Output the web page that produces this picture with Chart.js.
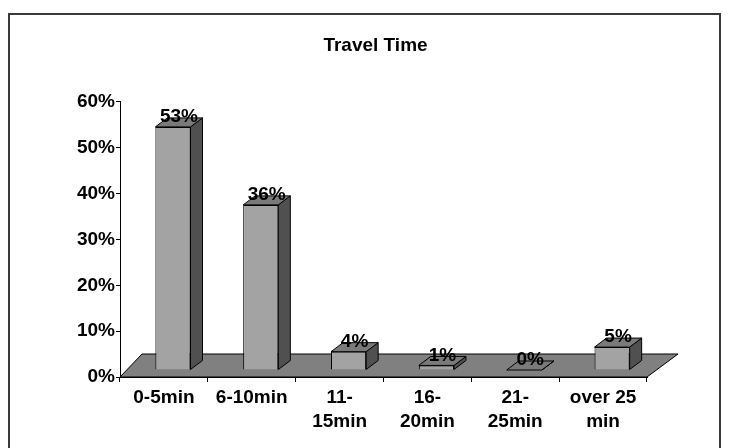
<!DOCTYPE html>
<html lang="en">
<head>
    <meta charset="UTF-8">
    <title>Travel Time</title>
    <script src="https://cdn.jsdelivr.net/npm/chart.js@4"></script>
    <style>
        html, body {
            margin: 0;
            padding: 0;
            background-color: #ffffff;
        }
        .contenedorGrafica {
            width: 729px;
            height: 448px;
        }
    </style>
</head>
<body>
    <div class="contenedorGrafica">
        <canvas id="travelChart" width="729" height="448"></canvas>
    </div>

    <script>
        const categories = [['0-5min'], ['6-10min'], ['11-', '15min'], ['16-', '20min'], ['21-', '25min'], ['over 25', 'min']];
        const percentages = [53, 36, 4, 1, 0, 5];
        const valueTicks = [0, 10, 20, 30, 40, 50, 60];

        const FONT = { family: "'Liberation Sans', Arial, sans-serif", size: 19, weight: 'bold' };

        // how far the bars sit back on the floor, and how deep each box is
        const SHIFT_X = 9, SHIFT_Y = 7;
        const BOX_X = 12, BOX_Y = 9;

        function poly(c, pts, fill) {
            c.beginPath();
            c.moveTo(pts[0][0], pts[0][1]);
            for (let i = 1; i < pts.length; i++) c.lineTo(pts[i][0], pts[i][1]);
            c.closePath();
            c.fillStyle = fill;
            c.fill();
            c.stroke();
        }

        const efecto3d = {
            id: 'efecto3d',
            beforeDraw(chart) {
                const c = chart.ctx;
                c.save();
                c.fillStyle = '#ffffff';
                c.fillRect(0, 0, chart.width, chart.height);
                c.strokeStyle = '#3a3a3a';
                c.lineWidth = 2;
                c.strokeRect(9, 14, 711, 470);
                c.restore();
            },
            beforeDatasetsDraw(chart) {
                const c = chart.ctx;
                const a = chart.chartArea;
                const y0 = chart.scales.y.getPixelForValue(0);
                c.save();
                c.strokeStyle = '#000';
                c.lineWidth = 1;
                poly(c, [[a.left, y0], [a.right, y0], [a.right + 31, y0 - 23], [a.left + 22, y0 - 23]], '#808080');
                c.restore();
                // bars are drawn a little back from the front edge
                c.save();
                c.translate(SHIFT_X, -SHIFT_Y);
            },
            afterDatasetsDraw(chart) {
                const c = chart.ctx;
                c.restore();
                const meta = chart.getDatasetMeta(0);
                c.save();
                c.strokeStyle = '#000';
                c.lineWidth = 1;
                meta.data.forEach((bar, i) => {
                    const p = bar.getProps(['x', 'y', 'base', 'width'], true);
                    const left = p.x - p.width / 2 + SHIFT_X;
                    const right = p.x + p.width / 2 + SHIFT_X;
                    const top = p.y - SHIFT_Y;
                    const bottom = p.base - SHIFT_Y;
                    poly(c, [[right, top], [right + BOX_X, top - BOX_Y], [right + BOX_X, bottom - BOX_Y], [right, bottom]], '#505050');
                    poly(c, [[left, top], [left + BOX_X, top - BOX_Y], [right + BOX_X, top - BOX_Y], [right, top]], '#7a7a7a');
                });
                c.fillStyle = '#000';
                c.font = `${FONT.weight} ${FONT.size}px ${FONT.family}`;
                c.textAlign = 'center';
                c.textBaseline = 'middle';
                meta.data.forEach((bar, i) => {
                    c.fillText(percentages[i] + '%', bar.x + SHIFT_X + 6, bar.y - 17);
                });
                c.restore();
            }
        };

        const ctx = document.getElementById('travelChart').getContext('2d');
        new Chart(ctx, {
            type: 'bar',
            data: {
                labels: categories,
                datasets: [{
                    data: percentages,
                    backgroundColor: '#a3a3a3',
                    borderColor: '#000',
                    borderWidth: 1,
                    barPercentage: 0.4,
                    categoryPercentage: 1
                }]
            },
            options: {
                responsive: false,
                animation: false,
                layout: { padding: { left: 22, right: 0, top: 14, bottom: 0 } },
                plugins: {
                    legend: { display: false },
                    tooltip: { enabled: false },
                    title: {
                        display: true,
                        text: 'Travel Time',
                        color: '#000',
                        font: FONT,
                        padding: { top: 20, bottom: 45 }
                    }
                },
                scales: {
                    x: {
                        grid: { drawOnChartArea: false, tickLength: 5, color: '#000', offset: true },
                        border: { color: '#000' },
                        ticks: { color: '#000', font: { ...FONT, lineHeight: 1.3 }, padding: 3, maxRotation: 0, autoSkip: false },
                        afterFit: s => { s.height = 71; }
                    },
                    y: {
                        min: 0,
                        max: 60,
                        afterBuildTicks: s => { s.ticks = valueTicks.map(v => ({ value: v })); },
                        ticks: { color: '#000', font: FONT, padding: 1, callback: v => v + '%' },
                        grid: { drawOnChartArea: false, tickLength: 4, color: '#000' },
                        border: { color: '#000' },
                        afterFit: s => { s.width = 98; }
                    },
                    margenDerecho: {
                        position: 'right',
                        grid: { display: false },
                        ticks: { display: false },
                        border: { display: false },
                        afterFit: s => { s.width = 82; }
                    }
                }
            },
            plugins: [efecto3d]
        });
    </script>
</body>
</html>
